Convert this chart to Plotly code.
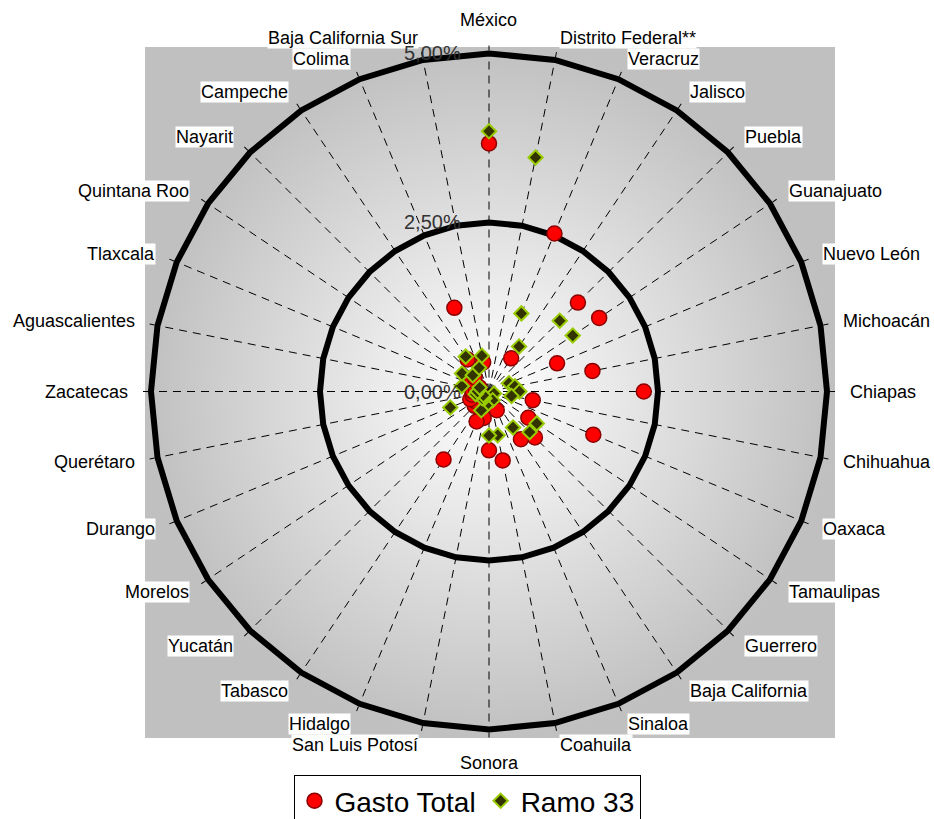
import base64
import math
import plotly.graph_objects as go

# ---------------- data ----------------
states = ["México", "Distrito Federal**", "Veracruz", "Jalisco", "Puebla", "Guanajuato",
          "Nuevo León", "Michoacán", "Chiapas", "Chihuahua", "Oaxaca", "Tamaulipas",
          "Guerrero", "Baja California", "Sinaloa", "Coahuila", "Sonora", "San Luis Potosí",
          "Hidalgo", "Tabasco", "Yucatán", "Morelos", "Durango", "Querétaro", "Zacatecas",
          "Aguascalientes", "Tlaxcala", "Quintana Roo", "Nayarit", "Campeche", "Colima",
          "Baja California Sur"]

gasto_total = [3.67, 5.06, 2.53, 0.59, 1.86, 1.96, 1.09, 1.56, 2.29, 0.66, 1.67, 0.70,
               0.96, 0.85, 0.30, 1.04, 0.87, 0.40, 0.48, 1.21, 0.30, 0.25, 0.30, 0.25,
               0.24, 0.20, 0.15, 0.30, 0.30, 0.57, 1.34, 0.44]

ramo_33 = [3.85, 3.53, 1.25, 0.80, 1.48, 1.49, 0.32, 0.39, 0.45, 0.34, 0.08, 0.85,
           0.85, 0.64, 0.14, 0.66, 0.65, 0.21, 0.30, 0.12, 0.14, 0.10, 0.62, 0.20,
           0.17, 0.41, 0.15, 0.48, 0.34, 0.62, 0.38, 0.54]

radial_ticks = [0, 2.5, 5.0]
r_max = 5.0

# ---------------- geometry ----------------
W, H = 934, 819
cx, cy, R = 489, 391.5, 338          # polar centre / radius in px
bg_x0, bg_y0, bg_w, bg_h = 145, 47, 690, 691

svg = ('<svg xmlns="http://www.w3.org/2000/svg" width="690" height="691">'
       '<defs><radialGradient id="g" cx="50%" cy="50%" r="50%">'
       '<stop offset="0" stop-color="#ffffff"/>'
       '<stop offset="1" stop-color="#c0c0c0"/>'
       '</radialGradient></defs>'
       '<rect width="100%" height="100%" fill="url(#g)"/></svg>')
src = "data:image/svg+xml;base64," + base64.b64encode(svg.encode()).decode()

fig = go.Figure()
fig.add_trace(go.Scatterpolar(
    r=gasto_total, theta=states, mode="markers", name="Gasto Total",
    cliponaxis=False,
    marker=dict(symbol="circle", size=15, color="#ff0000",
                line=dict(color="#8b0000", width=1.5))))
fig.add_trace(go.Scatterpolar(
    r=ramo_33, theta=states, mode="markers", name="Ramo 33",
    cliponaxis=False,
    marker=dict(symbol="diamond", size=11, color="#333300",
                line=dict(color="#99cc00", width=2))))

FONT = "Liberation Sans, Arial"
annotations = []
# category labels with white boxes
n = len(states)
lab_R = 360
for i, s in enumerate(states):
    th = 2 * math.pi * i / n
    px = cx + lab_R * math.sin(th)
    py = cy - lab_R * math.cos(th)
    sx = math.sin(th)
    if sx > 0.01:
        xa = "left"
    elif sx < -0.01:
        xa = "right"
    else:
        xa = "center"
    if i == 0:
        ya = "bottom"
    elif i == n // 2:
        ya = "top"
    else:
        ya = "middle"
    annotations.append(dict(
        x=px / W, y=1 - py / H, xref="paper", yref="paper", text=s,
        showarrow=False, xanchor=xa, yanchor=ya,
        font=dict(size=18, color="black", family=FONT),
        bgcolor="white", borderpad=0))

# radial axis value labels (left of the top spoke)
for v in radial_ticks:
    py = cy - R * v / r_max
    annotations.append(dict(
        x=(cx - 26) / W, y=1 - py / H, xref="paper", yref="paper",
        text=f"{v:.2f}".replace(".", ",") + "%",
        showarrow=False, xanchor="right", yanchor="middle",
        font=dict(size=20, color="#333333", family=FONT)))

fig.update_layout(
    width=W, height=H,
    margin=dict(l=0, r=0, t=0, b=0, autoexpand=False),
    paper_bgcolor="white",
    separators=",.",
    font=dict(family=FONT, color="black"),
    images=[dict(source=src, xref="paper", yref="paper",
                 x=bg_x0 / W, y=1 - bg_y0 / H, sizex=bg_w / W, sizey=bg_h / H,
                 xanchor="left", yanchor="top", sizing="stretch", layer="below")],
    polar=dict(
        domain=dict(x=[(cx - R) / W, (cx + R) / W], y=[1 - (cy + R) / H, 1 - (cy - R) / H]),
        bgcolor="rgba(0,0,0,0)",
        gridshape="linear",
        angularaxis=dict(
            type="category", categoryarray=states, rotation=90, direction="clockwise",
            showticklabels=False, ticks="outside", ticklen=5, tickcolor="black",
            showline=True, linecolor="black", linewidth=6,
            showgrid=True, gridcolor="black", gridwidth=1, griddash="8px,6px"),
        radialaxis=dict(
            range=[0, r_max], tickvals=radial_ticks, showticklabels=False,
            angle=90, showline=False, ticks="",
            showgrid=True, gridcolor="black", gridwidth=6),
    ),
    annotations=annotations,
    showlegend=True,
    legend=dict(orientation="h", x=0.5, xanchor="center",
                yref="container", y=1 - 775 / H, yanchor="top",
                bgcolor="white", bordercolor="black", borderwidth=1,
                font=dict(size=28, color="black", family=FONT), itemsizing="trace"),
)

fig.write_html("out.html", config={"displayModeBar": False},
               post_script="document.body.style.margin='0px';")
